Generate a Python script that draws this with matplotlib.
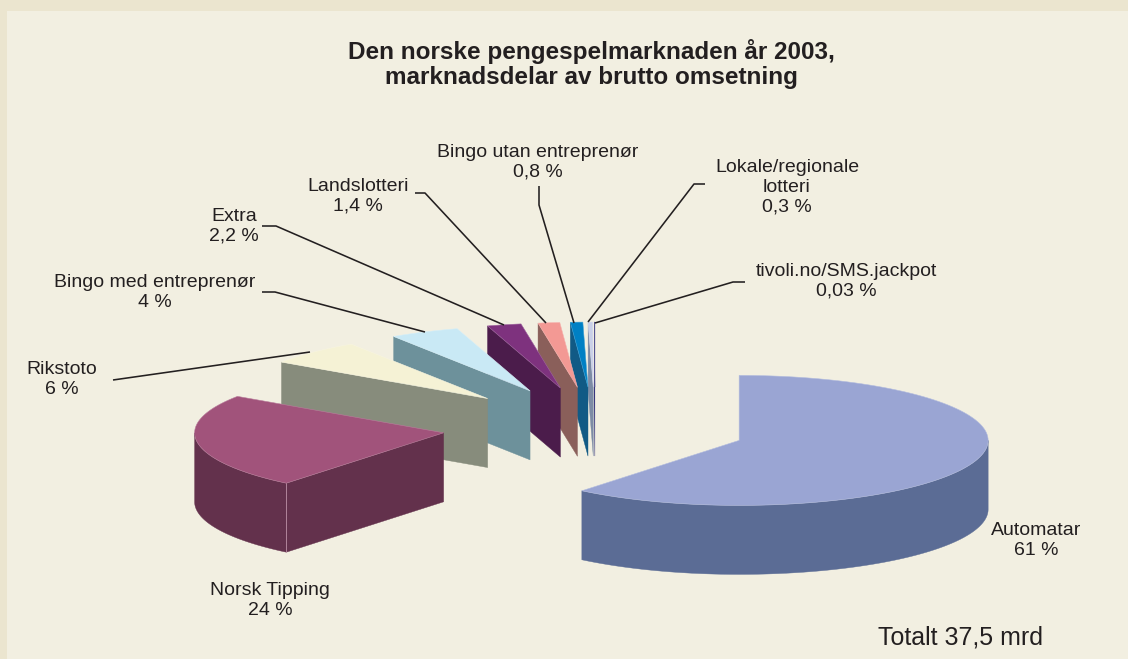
import numpy as np
import matplotlib
matplotlib.use("Agg")
import matplotlib.pyplot as plt
from matplotlib.patches import Polygon, Rectangle

plt.rcParams['font.family'] = ['Liberation Sans', 'DejaVu Sans']

# ---- data ----
categories = ["Automatar", "Norsk Tipping", "Rikstoto", "Bingo med entreprenør", "Extra",
              "Landslotteri", "Bingo utan entreprenør", "Lokale/regionale\nlotteri", "tivoli.no/SMS.jackpot"]
value_labels = ["61 %", "24 %", "6 %", "4 %", "2,2 %", "1,4 %", "0,8 %", "0,3 %", "0,03 %"]
# sector sizes (percent)
shares = [60.9, 23.6, 6.3, 4.5, 2.2, 1.4, 0.8, 0.3, 0.03]
top_colors = ["#9aa5d3", "#a1537b", "#f5f2d5", "#c9e9f5", "#7e327e", "#f39994", "#0080c4", "#c9cfe8", "#1c1a6e"]
side_colors = ["#5b6c95", "#63314c", "#878c7c", "#6d919b", "#4b1c4b", "#8a5f5a", "#115a85", "#7d8ba5", "#1c1a6e"]
title = "Den norske pengespelmarknaden år 2003,\nmarknadsdelar av brutto omsetning"
total_text = "Totalt 37,5 mrd"

# ---- layout (pixels) ----
W, H = 1128, 659
CX, CY = 595, 427
RX, RY = 249, 65
EXPLODE = 153
DEPTH = 69

label_pos = [(1036, 540.5), (270, 600.5), (62, 379.5), (155, 292.5), (234, 226.5),
             (358, 196.5), (538, 162), (787, 187.5), (846, 281.5)]
leaders = [
    None, None,
    [(113, 380), (310, 352)],
    [(262, 292), (275, 292), (425, 332)],
    [(262, 226), (276, 226), (504, 325)],
    [(415, 193), (425, 193), (546, 323)],
    [(539, 186), (539, 205), (574, 323)],
    [(705, 184), (694, 184), (588, 322)],
    [(745, 282), (733, 282), (595, 323)],
]

fig = plt.figure(figsize=(W / 100, H / 100), dpi=100, facecolor="#ebe5cf")
ax = fig.add_axes([0, 0, 1, 1])
ax.set_xlim(0, W)
ax.set_ylim(H, 0)
ax.axis("off")
ax.add_patch(Rectangle((7, 11), W, H, facecolor="#f2efe1", edgecolor="none", zorder=0))


def arc_points(cx, cy, a0, a1, n=120):
    t = np.radians(np.linspace(a0, a1, n))
    return np.column_stack([cx + RX * np.sin(t), cy - RY * np.cos(t)])


def draw_slice(cx, cy, a0, a1, top, side, z):
    s0, s1 = np.sin(np.radians(a0)), np.sin(np.radians(a1))
    d = np.array([0, DEPTH])
    apex = np.array([cx, cy])
    # outer wall, only where it faces the viewer (90..270 degrees)
    lo, hi = max(a0, 90), min(a1, 270)
    if hi > lo:
        arc = arc_points(cx, cy, lo, hi)
        ax.add_patch(Polygon(np.vstack([arc, (arc + d)[::-1]]), closed=True, facecolor=side,
                             edgecolor=side, lw=0.3, zorder=z))
    # radial walls facing the viewer
    for ang, vis in ((a0, s0 < 0), (a1, s1 > 0)):
        if vis:
            p = arc_points(cx, cy, ang, ang, 1)[0]
            ax.add_patch(Polygon([apex, p, p + d, apex + d], closed=True, facecolor=side,
                                 edgecolor=side, lw=0.3, zorder=z))
            if lo <= ang <= hi:
                tint = tuple(0.55 * np.array(matplotlib.colors.to_rgb(top)) + 0.45)
                ax.plot([p[0], p[0]], [p[1], p[1] + DEPTH], color=tint, lw=0.5, zorder=z + 0.2)
    # top surface
    tint = tuple(0.75 * np.array(matplotlib.colors.to_rgb(top)) + 0.25)
    ax.add_patch(Polygon(np.vstack([apex, arc_points(cx, cy, a0, a1)]), closed=True, facecolor=top,
                         edgecolor=tint, lw=0.4, zorder=z + 0.5, joinstyle="miter"))


total = sum(shares)
edges = np.concatenate([[0], np.cumsum(shares)]) / total * 360
n = len(shares)
for i in range(n):
    a0, a1 = edges[i], edges[i + 1]
    mid = np.radians((a0 + a1) / 2)
    cx = CX + EXPLODE * np.sin(mid)
    cy = CY - EXPLODE * RY / RX * np.cos(mid)
    z = 2 + (n - i if i > 0 else 0)
    draw_slice(cx, cy, a0, a1, top_colors[i], side_colors[i], z)

for path in leaders:
    if path:
        xs, ys = zip(*path)
        ax.plot(xs, ys, color="#231f20", lw=1.15, zorder=30, solid_capstyle="butt")

for name, val, (x, y) in zip(categories, value_labels, label_pos):
    ax.text(x, y, f"{name}\n{val}", ha="center", va="center", fontsize=14, color="#231f20",
            linespacing=1.2, zorder=31)

ax.text(591, 64, title, ha="center", va="center", fontsize=17.5, fontweight="bold",
        color="#231f20", linespacing=1.1, zorder=31)
ax.text(960, 637, total_text, ha="center", va="center", fontsize=18, color="#231f20", zorder=31)

fig.savefig("out.png", dpi=100, facecolor=fig.get_facecolor())
